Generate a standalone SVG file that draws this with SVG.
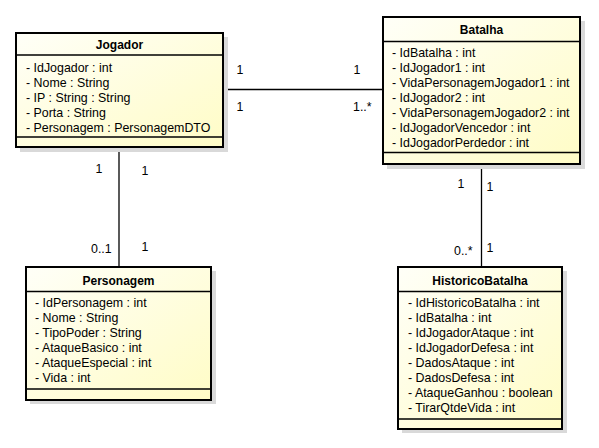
<svg xmlns="http://www.w3.org/2000/svg" width="599" height="448" viewBox="0 0 599 448">
<defs>
<linearGradient id="fillg" x1="0" y1="0" x2="1" y2="1">
<stop offset="0" stop-color="#FFFFF8"/>
<stop offset="1" stop-color="#FFFCC6"/>
</linearGradient>
</defs>
<style>
.shadow{fill:#D9D9D9;}
.box{fill:url(#fillg);stroke:#000;stroke-width:2;}
.sep{stroke:#000;stroke-width:1.5;}
.title{font-family:"Liberation Sans",Arial,sans-serif;font-size:12px;font-weight:bold;text-anchor:middle;fill:#000;}
.attr{font-family:"Liberation Sans",Arial,sans-serif;font-size:12.4px;fill:#000;}
.lbl{font-family:"Liberation Sans",Arial,sans-serif;font-size:12.4px;fill:#000;}
.conn{stroke:#000;stroke-width:1.3;fill:none;}
</style>
<rect width="599" height="448" fill="#FFFFFF"/>
<g id="connectors">
<line class="conn" x1="224" y1="89.5" x2="382" y2="89.5"/>
<line class="conn" x1="119" y1="148" x2="119" y2="266"/>
<line class="conn" x1="481.5" y1="165" x2="481.5" y2="266"/>
<text class="lbl" x="240" y="74" text-anchor="middle">1</text>
<text class="lbl" x="357" y="74" text-anchor="middle">1</text>
<text class="lbl" x="240" y="111" text-anchor="middle">1</text>
<text class="lbl" x="353" y="111">1..*</text>
<text class="lbl" x="99" y="173" text-anchor="middle">1</text>
<text class="lbl" x="145" y="175" text-anchor="middle">1</text>
<text class="lbl" x="91" y="253">0..1</text>
<text class="lbl" x="145" y="251" text-anchor="middle">1</text>
<text class="lbl" x="461" y="188" text-anchor="middle">1</text>
<text class="lbl" x="490" y="191" text-anchor="middle">1</text>
<text class="lbl" x="454" y="255">0..*</text>
<text class="lbl" x="490" y="252" text-anchor="middle">1</text>
</g>
<g id="Jogador">
<rect class="shadow" x="20" y="37" width="208" height="115"/>
<rect class="box" x="16" y="33" width="207" height="114"/>
<line class="sep" x1="16" y1="55" x2="223" y2="55"/>
<line class="sep" x1="16" y1="137" x2="223" y2="137"/>
<text class="title" x="119.5" y="49">Jogador</text>
<text class="attr" x="26" y="72">- IdJogador : int</text>
<text class="attr" x="26" y="87">- Nome : String</text>
<text class="attr" x="26" y="102">- IP : String : String</text>
<text class="attr" x="26" y="117">- Porta : String</text>
<text class="attr" x="26" y="132">- Personagem : PersonagemDTO</text>
</g>
<g id="Batalha">
<rect class="shadow" x="387" y="21" width="198" height="148"/>
<rect class="box" x="383" y="17" width="197" height="147"/>
<line class="sep" x1="383" y1="41.5" x2="580" y2="41.5"/>
<line class="sep" x1="383" y1="152.5" x2="580" y2="152.5"/>
<text class="title" x="481.5" y="34">Batalha</text>
<text class="attr" x="392" y="57">- IdBatalha : int</text>
<text class="attr" x="392" y="72">- IdJogador1 : int</text>
<text class="attr" x="392" y="87">- VidaPersonagemJogador1 : int</text>
<text class="attr" x="392" y="102">- IdJogador2 : int</text>
<text class="attr" x="392" y="117">- VidaPersonagemJogador2 : int</text>
<text class="attr" x="392" y="132">- IdJogadorVencedor : int</text>
<text class="attr" x="392" y="147">- IdJogadorPerdedor : int</text>
</g>
<g id="Personagem">
<rect class="shadow" x="30" y="271" width="186" height="133"/>
<rect class="box" x="26" y="267" width="185" height="133"/>
<line class="sep" x1="26" y1="291.5" x2="211" y2="291.5"/>
<line class="sep" x1="26" y1="389" x2="211" y2="389"/>
<text class="title" x="118.5" y="285">Personagem</text>
<text class="attr" x="35" y="307">- IdPersonagem : int</text>
<text class="attr" x="35" y="322">- Nome : String</text>
<text class="attr" x="35" y="337">- TipoPoder : String</text>
<text class="attr" x="35" y="352">- AtaqueBasico : int</text>
<text class="attr" x="35" y="367">- AtaqueEspecial : int</text>
<text class="attr" x="35" y="382">- Vida : int</text>
</g>
<g id="HistoricoBatalha">
<rect class="shadow" x="402" y="271" width="165" height="162"/>
<rect class="box" x="398" y="267" width="164" height="162"/>
<line class="sep" x1="398" y1="291.5" x2="562" y2="291.5"/>
<line class="sep" x1="398" y1="419" x2="562" y2="419"/>
<text class="title" x="480" y="285">HistoricoBatalha</text>
<text class="attr" x="408" y="307">- IdHistoricoBatalha : int</text>
<text class="attr" x="408" y="322">- IdBatalha : int</text>
<text class="attr" x="408" y="337">- IdJogadorAtaque : int</text>
<text class="attr" x="408" y="352">- IdJogadorDefesa : int</text>
<text class="attr" x="408" y="367">- DadosAtaque : int</text>
<text class="attr" x="408" y="382">- DadosDefesa : int</text>
<text class="attr" x="408" y="397">- AtaqueGanhou : boolean</text>
<text class="attr" x="408" y="412">- TirarQtdeVida : int</text>
</g>
</svg>
